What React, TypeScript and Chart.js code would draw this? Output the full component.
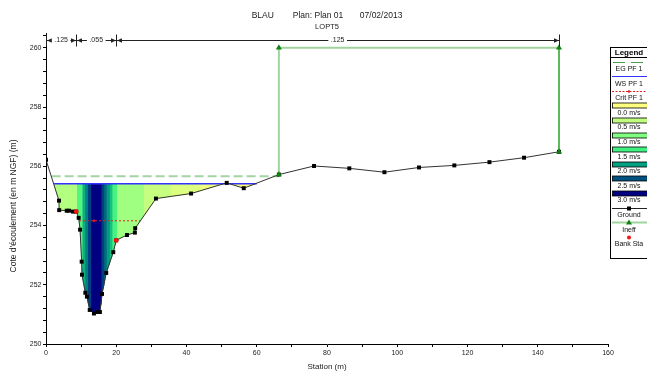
import React, { useEffect, useRef } from 'react';
import { Chart, registerables } from 'chart.js';

Chart.register(...registerables);

// ---------- data ----------
const titleText = 'BLAU        Plan: Plan 01       07/02/2013';
const subtitleText = 'LOPT5';
const xTitle = 'Station (m)';
const yTitle = "Cote d'écoulement (en m NGF) (m)";

const groundStations = [0, 3.7, 3.75, 5.9, 6.55, 7.7, 8.6, 9.3, 9.7, 10.15, 10.25, 11.2, 11.65, 12.45, 13.65, 14.8, 15.35, 15.95, 17.15, 19.15, 20.0, 23.05, 25.3, 25.4, 31.3, 41.3, 51.45, 56.3, 66.3, 76.3, 86.35, 96.35, 106.2, 116.25, 126.25, 136.1, 146.05];
const groundElev = [256.22, 254.84, 254.52, 254.5, 254.5, 254.47, 254.47, 254.26, 253.86, 252.78, 252.34, 251.73, 251.6, 251.15, 251.03, 251.08, 251.08, 251.69, 252.4, 253.1, 253.5, 253.68, 253.76, 253.91, 254.91, 255.08, 255.44, 255.26, 255.72, 256.01, 255.93, 255.8, 255.96, 256.03, 256.14, 256.29, 256.49];

const bankStations = [8.6, 20.0];

const wsElev = 255.41;
const wsStations = [2.3, 60.0];
const egElev = 255.66;
const egStations = [1.6, 66.3];
const critElev = 254.16;
const critStations = [9.4, 13.65, 26.8];

const ineffStations = [66.3, 66.3, 146.05, 146.05];
const ineffElev = [255.72, 260.0, 260.0, 256.49];

const nStations = [0, 8.6, 20.0, 146.05];
const nValues = ['.125', '.055', '.125'];

const velEdges = [2.3, 8.6, 10.2, 11.0, 11.8, 12.7, 15.6, 16.4, 17.1, 18.0, 18.7, 20.0, 27.7, 35.3, 43.8, 51.45, 60.0];
const velValues = [0.6, 1.35, 1.9, 2.2, 2.6, 3.0, 2.6, 2.3, 2.0, 1.8, 1.45, 0.75, 0.45, 0.28, 0.12, 0.02];

const velStops = [0, 0.5, 1.0, 1.5, 2.0, 2.5, 3.0];
const velLabels = ['0.0 m/s', '0.5 m/s', '1.0 m/s', '1.5 m/s', '2.0 m/s', '2.5 m/s', '3.0 m/s'];
const velColors = ['#ffff80', '#c0ff80', '#80ff80', '#40f080', '#00a080', '#005080', '#000080'];

const legendTitle = 'Legend';
const legendLabels = ['EG PF 1', 'WS PF 1', 'Crit PF 1', ...velLabels, 'Ground', 'Ineff', 'Bank Sta'];

const xTickLabels = [0, 20, 40, 60, 80, 100, 120, 140, 160];
const yTickLabels = [250, 252, 254, 256, 258, 260];

// ---------- helpers ----------
const FONT = 'Arial, "Liberation Sans", Helvetica, sans-serif';

function hexToRgb(h: string) {
  const n = parseInt(h.slice(1), 16);
  return [(n >> 16) & 255, (n >> 8) & 255, n & 255];
}
function velColor(v: number) {
  if (v <= velStops[0]) return velColors[0];
  for (let i = 0; i < velStops.length - 1; i++) {
    if (v <= velStops[i + 1]) {
      const t = (v - velStops[i]) / (velStops[i + 1] - velStops[i]);
      const a = hexToRgb(velColors[i]);
      const b = hexToRgb(velColors[i + 1]);
      const c = a.map((av, k) => Math.round(av + (b[k] - av) * t));
      return `rgb(${c[0]},${c[1]},${c[2]})`;
    }
  }
  return velColors[velColors.length - 1];
}
function groundAt(x: number) {
  for (let i = 0; i < groundStations.length - 1; i++) {
    const a = groundStations[i];
    const b = groundStations[i + 1];
    if (x >= a && x <= b) {
      if (b === a) return groundElev[i];
      return groundElev[i] + ((groundElev[i + 1] - groundElev[i]) * (x - a)) / (b - a);
    }
  }
  return groundElev[groundElev.length - 1];
}
function slicePolygon(a: number, b: number) {
  const pts: { x: number; y: number }[] = [
    { x: a, y: wsElev },
    { x: b, y: wsElev },
    { x: b, y: groundAt(b) },
  ];
  for (let i = groundStations.length - 1; i >= 0; i--) {
    const s = groundStations[i];
    if (s < b && s > a) pts.push({ x: s, y: groundElev[i] });
  }
  pts.push({ x: a, y: groundAt(a) });
  return pts;
}

const xTickValues: number[] = [];
for (let v = xTickLabels[0]; v <= xTickLabels[xTickLabels.length - 1]; v += 10) xTickValues.push(v);
const yTickValues: number[] = [];
for (let i = 0; i <= 26; i++) yTickValues.push(+(250 + i * 0.4).toFixed(1));

function drawLegend(ctx: CanvasRenderingContext2D) {
  const L = 610;
  const T = 47;
  const W = 40;
  const H = 211;
  const cx = L + 19;
  ctx.save();
  ctx.fillStyle = '#fff';
  ctx.fillRect(L, T, W, H);
  ctx.strokeStyle = '#000';
  ctx.lineWidth = 1;
  ctx.strokeRect(L + 0.5, T + 0.5, W, H);
  ctx.beginPath();
  ctx.moveTo(L, T + 10.5);
  ctx.lineTo(L + W, T + 10.5);
  ctx.stroke();
  ctx.textAlign = 'center';
  ctx.textBaseline = 'middle';
  ctx.fillStyle = '#000';
  ctx.font = `bold 8px ${FONT}`;
  ctx.fillText(legendTitle, cx, T + 5.5);
  const step = 14.6;
  legendLabels.forEach((label, i) => {
    const sy = Math.round(T + 14.5 + step * i) + 0.5;
    const ly = T + 22 + step * i;
    ctx.save();
    ctx.setLineDash([]);
    if (i === 0) {
      ctx.strokeStyle = '#4a9e4a';
      ctx.setLineDash([12, 6]);
      ctx.beginPath();
      ctx.moveTo(L + 3, sy);
      ctx.lineTo(L + 40, sy);
      ctx.stroke();
    } else if (i === 1) {
      ctx.strokeStyle = '#3333ff';
      ctx.beginPath();
      ctx.moveTo(L + 2, sy);
      ctx.lineTo(L + 40, sy);
      ctx.stroke();
    } else if (i === 2) {
      ctx.strokeStyle = '#e02020';
      ctx.setLineDash([2, 1.5]);
      ctx.beginPath();
      ctx.moveTo(L + 2, sy);
      ctx.lineTo(L + 40, sy);
      ctx.stroke();
      ctx.fillStyle = '#e02020';
      ctx.beginPath();
      ctx.arc(cx, sy, 1.3, 0, Math.PI * 2);
      ctx.fill();
    } else if (i >= 3 && i < 3 + velColors.length) {
      ctx.fillStyle = velColors[i - 3];
      ctx.fillRect(L + 2.5, sy - 2.5, 40, 5);
      ctx.strokeStyle = '#000';
      ctx.lineWidth = 0.8;
      ctx.strokeRect(L + 2.5, sy - 2.5, 40, 5);
    } else if (label === 'Ground') {
      ctx.strokeStyle = '#222';
      ctx.beginPath();
      ctx.moveTo(L + 2, sy);
      ctx.lineTo(L + 40, sy);
      ctx.stroke();
      ctx.fillStyle = '#000';
      ctx.fillRect(cx - 2, sy - 2, 4, 4);
    } else if (label === 'Ineff') {
      ctx.strokeStyle = '#9fd49f';
      ctx.lineWidth = 2;
      ctx.beginPath();
      ctx.moveTo(L + 2, sy);
      ctx.lineTo(L + 40, sy);
      ctx.stroke();
      ctx.fillStyle = '#108010';
      ctx.beginPath();
      ctx.moveTo(cx, sy - 3);
      ctx.lineTo(cx + 3, sy + 2);
      ctx.lineTo(cx - 3, sy + 2);
      ctx.closePath();
      ctx.fill();
    } else {
      ctx.fillStyle = '#ff1010';
      ctx.beginPath();
      ctx.arc(cx, sy, 2, 0, Math.PI * 2);
      ctx.fill();
    }
    ctx.restore();
    ctx.fillStyle = '#111';
    ctx.font = `7px ${FONT}`;
    ctx.fillText(label, cx, ly);
  });
  ctx.restore();
}

const hecPlugin = {
  id: 'hecras',
  afterDraw(chart: any) {
    const { ctx, chartArea, scales } = chart;
    const xs = scales.x;
    const y = Math.round(chartArea.top + 7) + 0.5;
    ctx.save();
    ctx.strokeStyle = '#222';
    ctx.fillStyle = '#222';
    ctx.lineWidth = 1;
    const px = nStations.map((s) => Math.round(xs.getPixelForValue(s)) + 0.5);
    ctx.beginPath();
    ctx.moveTo(px[0], y);
    ctx.lineTo(px[px.length - 1], y);
    ctx.stroke();
    px.forEach((p) => {
      ctx.beginPath();
      ctx.moveTo(p, y - 6);
      ctx.lineTo(p, y + 6);
      ctx.stroke();
    });
    for (let i = 0; i < px.length - 1; i++) {
      const a = px[i] + 0.5;
      const b = px[i + 1] - 0.5;
      ctx.beginPath();
      ctx.moveTo(a, y);
      ctx.lineTo(a + 5, y - 2.2);
      ctx.lineTo(a + 5, y + 2.2);
      ctx.closePath();
      ctx.fill();
      ctx.beginPath();
      ctx.moveTo(b, y);
      ctx.lineTo(b - 5, y - 2.2);
      ctx.lineTo(b - 5, y + 2.2);
      ctx.closePath();
      ctx.fill();
    }
    ctx.font = `7px ${FONT}`;
    ctx.textAlign = 'center';
    ctx.textBaseline = 'middle';
    for (let i = 0; i < nValues.length; i++) {
      const mid = xs.getPixelForValue((nStations[i] + nStations[i + 1]) / 2);
      const w = ctx.measureText(nValues[i]).width + 5;
      ctx.fillStyle = '#fff';
      ctx.fillRect(mid - w / 2, y - 4, w, 8);
      ctx.fillStyle = '#222';
      ctx.fillText(nValues[i], mid, y);
    }
    ctx.save();
    ctx.font = `8.5px ${FONT}`;
    ctx.translate(14, 206);
    ctx.rotate(-Math.PI / 2);
    ctx.fillStyle = '#222';
    ctx.fillText(yTitle, 0, 0);
    ctx.restore();
    drawLegend(ctx);
    ctx.restore();
  },
};

export default function App() {
  const ref = useRef<HTMLCanvasElement>(null);
  useEffect(() => {
    if (!ref.current) return;
    const sliceSets = velValues.map((v, i) => {
      const c = velColor(v);
      return {
        type: 'line' as const,
        data: slicePolygon(velEdges[i], velEdges[i + 1]),
        fill: 'shape',
        backgroundColor: c,
        borderColor: c,
        borderWidth: 0.8,
        pointRadius: 0,
        order: 10,
      };
    });
    const ground = groundStations.map((s, i) => ({ x: s, y: groundElev[i] }));
    const chart = new Chart(ref.current, {
      type: 'line',
      data: {
        datasets: [
          {
            data: bankStations.map((s) => ({ x: s, y: groundAt(s) })),
            showLine: false,
            pointRadius: 2.3,
            pointBackgroundColor: '#ff1010',
            pointBorderWidth: 0,
            order: -3,
          },
          {
            data: ineffStations.map((s, i) => ({ x: s, y: ineffElev[i] })),
            borderColor: '#9fd49f',
            borderWidth: 2,
            pointStyle: 'triangle',
            pointRadius: 3.5,
            pointBackgroundColor: '#108010',
            pointBorderWidth: 0,
            segment: { borderColor: (c: any) => (c.p0DataIndex === 2 ? '#5cb85c' : undefined) },
            order: -2,
          },
          {
            data: ground,
            borderColor: '#333',
            borderWidth: 1,
            pointStyle: 'rect',
            pointRadius: 2.8,
            pointBackgroundColor: '#000',
            pointBorderWidth: 0,
            order: -1,
          },
          {
            data: critStations.map((s) => ({ x: s, y: critElev })),
            borderColor: '#e02020',
            borderWidth: 1,
            borderDash: [2, 2],
            pointRadius: [0, 1.3, 0],
            pointBackgroundColor: '#e02020',
            pointBorderWidth: 0,
            order: 0,
          },
          {
            data: wsStations.map((s) => ({ x: s, y: wsElev })),
            borderColor: '#3333ff',
            borderWidth: 1.3,
            pointRadius: 0,
            order: 1,
          },
          {
            data: egStations.map((s) => ({ x: s, y: egElev })),
            borderColor: '#a3d4a3',
            borderWidth: 2,
            borderDash: [9, 4],
            pointRadius: 0,
            order: 2,
          },
          ...sliceSets,
        ] as any,
      },
      options: {
        animation: false,
        responsive: false,
        maintainAspectRatio: false,
        events: [],
        layout: { padding: { left: 0, right: 39, top: 0, bottom: 0 } },
        elements: { line: { tension: 0 } },
        plugins: {
          legend: { display: false },
          tooltip: { enabled: false },
          title: {
            display: true,
            text: titleText,
            fullSize: false,
            color: '#222',
            font: { family: FONT, size: 8.5, weight: 'normal', lineHeight: 1.2 },
            padding: { top: 10.9, bottom: 0 },
          },
          subtitle: {
            display: true,
            text: subtitleText,
            fullSize: false,
            color: '#222',
            font: { family: FONT, size: 7.5, lineHeight: 1.2 },
            padding: { top: 1.4, bottom: 1.5 },
          },
        },
        scales: {
          x: {
            type: 'linear',
            min: 0,
            max: 160,
            afterBuildTicks: (axis: any) => {
              axis.ticks = xTickValues.map((v) => ({ value: v }));
            },
            afterFit: (axis: any) => {
              axis.height = 27;
            },
            ticks: {
              autoSkip: false,
              maxRotation: 0,
              padding: 2,
              color: '#222',
              font: { family: FONT, size: 7 },
              callback: (v: any) => (xTickLabels.includes(Number(v)) ? String(v) : ''),
            },
            grid: { display: true, drawOnChartArea: false, drawTicks: true, tickLength: 3, color: '#000' },
            border: { display: true, color: '#000', width: 1 },
            title: {
              display: true,
              text: xTitle,
              color: '#222',
              font: { family: FONT, size: 8, lineHeight: 1 },
              padding: { top: 0, bottom: 0 },
            },
          },
          y: {
            type: 'linear',
            min: 250,
            max: 260.5,
            afterBuildTicks: (axis: any) => {
              axis.ticks = yTickValues.map((v) => ({ value: v }));
            },
            afterFit: (axis: any) => {
              axis.width = 46;
            },
            ticks: {
              autoSkip: false,
              padding: 1.5,
              color: '#222',
              font: { family: FONT, size: 7 },
              callback: (v: any) => (yTickLabels.includes(Number(v)) ? String(v) : ''),
            },
            grid: { display: true, drawOnChartArea: false, drawTicks: true, tickLength: 3, color: '#000' },
            border: { display: true, color: '#000', width: 1 },
          },
        },
      } as any,
      plugins: [hecPlugin],
    });
    return () => chart.destroy();
  }, []);

  return (
    <div style={{ position: 'absolute', left: 0, top: 0, width: 647, height: 371, background: '#fff', overflow: 'hidden' }}>
      <canvas ref={ref} width={647} height={371} style={{ position: 'absolute', left: 0, top: 0, width: 647, height: 371 }} />
    </div>
  );
}
